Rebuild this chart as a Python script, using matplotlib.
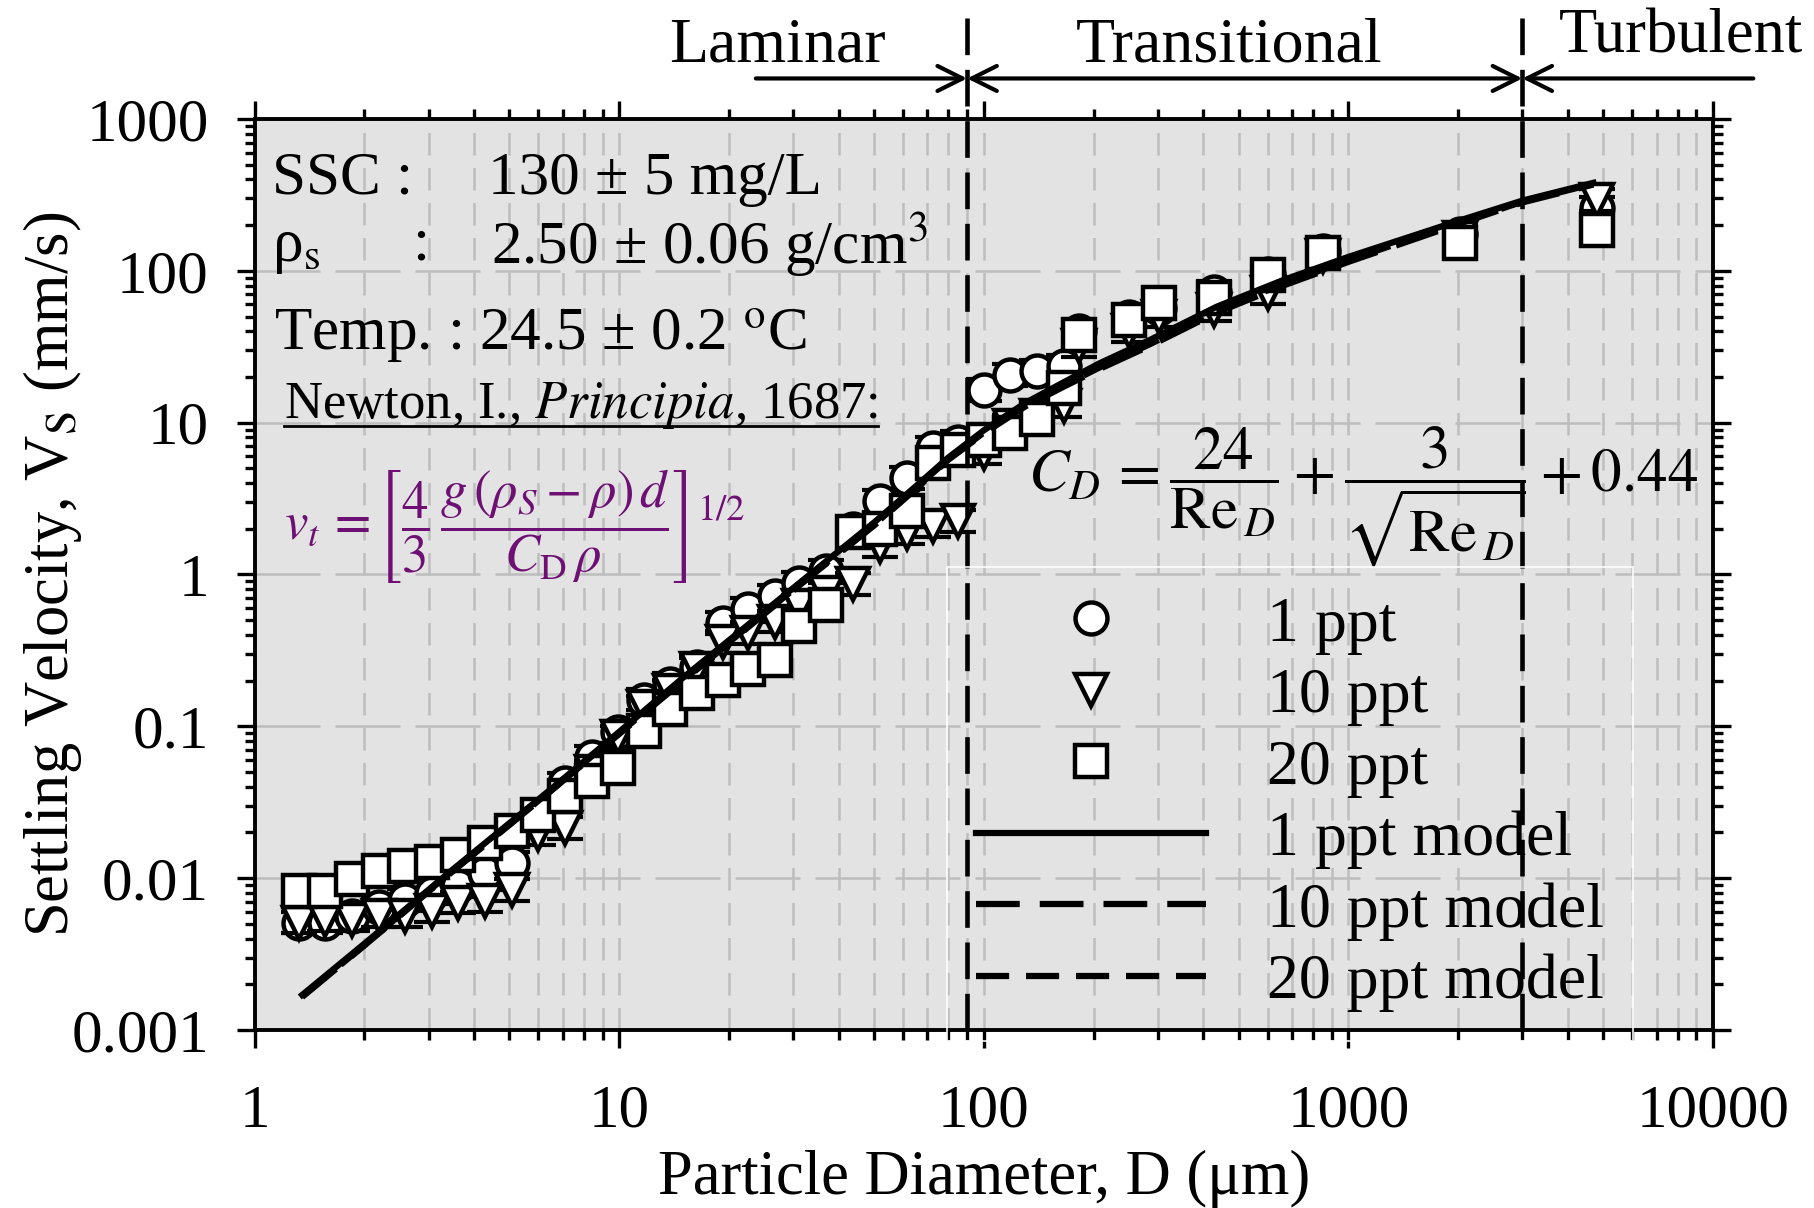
import matplotlib
matplotlib.use("Agg")
import matplotlib.pyplot as plt
from matplotlib.lines import Line2D
from matplotlib.ticker import LogLocator, FuncFormatter, NullFormatter
import numpy as np

plt.rcParams["font.family"] = ["Liberation Serif", "DejaVu Serif"]
plt.rcParams["mathtext.fontset"] = "stix"

# particle diameters (um), shared by the three salinities
diam = [1.32, 1.56, 1.85, 2.19, 2.59, 3.06, 3.62, 4.29, 5.08, 6.0, 7.1, 8.4,
        9.9, 11.7, 13.8, 16.3, 19.3, 22.6, 26.7, 31.2, 37.0, 43.8, 51.8, 61.5,
        72.6, 85.0, 100, 118, 140, 166, 182, 250, 303, 427, 603, 853, 2020, 4800]

# settling velocity (mm/s)
vs_1ppt = [0.0051, 0.0051, 0.0056, 0.0065, 0.0072, 0.0080, 0.0089, 0.0108,
           0.0126, 0.026, 0.042, 0.063, 0.092, 0.15, 0.19, 0.245, 0.48, 0.59,
           0.72, 0.88, 1.05, 1.98, 3.05, 4.3, 6.8, 7.5, 16.5, 20.5, 22.0, 23.5,
           40, 50, 57, 73, 95, 135, 175, 260]
vs_10ppt = [0.0051, 0.0053, 0.0053, 0.0056, 0.0056, 0.0061, 0.0069, 0.0071,
            0.0084, 0.0194, 0.0215, 0.05, 0.085, 0.135, 0.17, 0.24, 0.36, 0.41,
            0.49, 0.62, 0.75, 0.87, 1.53, 1.88, 2.08, 2.24, 6.3, 9.5, 11.0, 12.8,
            31.8, 40, 50, 55, 71, 125, 165, 294]
vs_20ppt = [0.0082, 0.0082, 0.0098, 0.0111, 0.0120, 0.0127, 0.0143, 0.0171,
            0.0204, 0.0262, 0.0347, 0.0436, 0.0533, 0.093, 0.129, 0.166, 0.203,
            0.237, 0.275, 0.46, 0.63, 1.9, 2.0, 2.6, 5.4, 6.6, 7.7, 8.6, 10.5,
            16.9, 38, 47.6, 61, 66, 94, 131, 152, 187]

# fitted model curves
model_d = [1.35, 2.0, 3.4, 6.45, 10, 15, 25, 35, 50, 65, 80, 100, 130, 166,
           207, 285, 435, 663, 1005, 2024, 3000, 4700]
model_1ppt = [0.0017, 0.0037, 0.0108, 0.038, 0.092, 0.21, 0.57, 1.1, 2.2, 3.8,
              5.9, 8.9, 13.5, 18.5, 24.5, 35, 58, 87, 124, 215, 290, 380]
model_10ppt = [0.00165, 0.0036, 0.0105, 0.037, 0.089, 0.2, 0.55, 1.06, 2.1,
               3.65, 5.7, 8.5, 12.8, 17.3, 22.5, 32, 53, 80, 115, 205, 282, 370]
model_20ppt = [0.00166, 0.00362, 0.0106, 0.0372, 0.09, 0.203, 0.555, 1.07, 2.12,
               3.7, 5.75, 8.6, 13.0, 17.6, 23.0, 32.8, 54.5, 82, 118, 208, 285, 374]

rel_err = 0.18
regime_bounds = [90, 3000]

fig = plt.figure(figsize=(18.15, 12.08), dpi=100)
ax = fig.add_axes([0.1403, 0.1474, 0.8035, 0.7541])
ax.set_facecolor("#e3e3e3")
ax.set_xscale("log")
ax.set_yscale("log")
ax.set_xlim(1, 10000)
ax.set_ylim(0.001, 1000)

# grid
ax.grid(which="major", axis="y", color="#bdbdbd", lw=1.8, ls=(0, (26, 6)))
ax.grid(which="both", axis="x", color="#bdbdbd", lw=1.8, ls=(0, (9, 5)))
ax.set_axisbelow(True)

mk = dict(ls="none", mfc="white", mec="black", ms=23, mew=3.2)
series = [(vs_1ppt, "o", "1 ppt", 3), (vs_10ppt, "v", "10 ppt", 4),
          (vs_20ppt, "s", "20 ppt", 5)]
handles = []
for vals, m, lab, z in series:
    v = np.array(vals)
    ax.errorbar(diam, v, yerr=[v - v / (1 + rel_err), v * rel_err], fmt="none",
                ecolor="black", elinewidth=2.4, capsize=13, capthick=3,
                zorder=z - 0.5)
    h, = ax.plot(diam, v, marker=m, label=lab, zorder=z, **mk)
    handles.append(h)

h1, = ax.plot(model_d, model_1ppt, color="black", lw=4.5, zorder=6,
              label="1 ppt model")
h2, = ax.plot(model_d, model_10ppt, color="black", lw=4.5, ls=(0, (7, 3.2)),
              zorder=6, label="10 ppt model")
h3, = ax.plot(model_d, model_20ppt, color="black", lw=4.5, ls=(0, (5.3, 2.7)),
              zorder=6, label="20 ppt model")
handles += [h1, h2, h3]

# regime boundaries
for xb in regime_bounds:
    ax.plot([xb, xb], [0, 1.125], transform=ax.get_xaxis_transform(),
            color="black", lw=3.3, ls=(0, (8, 3.2)), clip_on=False, zorder=7)

trans = ax.get_xaxis_transform()
arr = dict(lw=3, color="black", shrinkA=0, shrinkB=0, mutation_scale=45)
ax.annotate("", xy=(regime_bounds[0], 1.0445), xytext=(23.7, 1.0445),
            xycoords=trans, textcoords=trans,
            arrowprops=dict(arrowstyle="->", **arr), annotation_clip=False)
ax.annotate("", xy=(regime_bounds[1], 1.0445), xytext=(regime_bounds[0], 1.0445),
            xycoords=trans, textcoords=trans,
            arrowprops=dict(arrowstyle="<->", **arr), annotation_clip=False)
ax.annotate("", xy=(regime_bounds[1], 1.0445), xytext=(12900, 1.0445),
            xycoords=trans, textcoords=trans,
            arrowprops=dict(arrowstyle="->", **arr), annotation_clip=False)
fs = 44
ax.text(27.2, 1.08, "Laminar", transform=trans, ha="center", va="center",
        fontsize=46, clip_on=False)
ax.text(470, 1.08, "Transitional", transform=trans, ha="center", va="center",
        fontsize=46, clip_on=False)
ax.text(8150, 1.09, "Turbulent", transform=trans, ha="center", va="center",
        fontsize=45, clip_on=False)

# ticks
for axis in (ax.xaxis, ax.yaxis):
    axis.set_major_locator(LogLocator(base=10, numticks=20))
    axis.set_minor_locator(LogLocator(base=10, subs=np.arange(2, 10), numticks=20))
    axis.set_major_formatter(FuncFormatter(lambda v, _: f"{v:g}"))
    axis.set_minor_formatter(NullFormatter())
ax.tick_params(which="both", direction="out", top=True, right=True, width=2.4,
               labelsize=fs)
ax.tick_params(which="major", length=13)
ax.tick_params(which="minor", length=7)
ax.tick_params(axis="x", which="major", pad=26)
ax.tick_params(axis="y", which="major", pad=20)
for s in ax.spines.values():
    s.set_linewidth(2.8)

ax.set_xlabel("Particle Diameter, D (μm)", fontsize=45)
ax.set_ylabel("Settling Velocity, V$_\\mathrm{S}$ (mm/s)", fontsize=45)
ax.xaxis.set_label_coords(0.5, -0.132)
ax.yaxis.set_label_coords(-0.117, 0.5)

# annotations
ax.text(0.012, 0.934, "SSC :", transform=ax.transAxes, fontsize=fs, va="center")
ax.text(0.16, 0.934, "130 ± 5 mg/L", transform=ax.transAxes, fontsize=fs,
        va="center")
ax.text(0.012, 0.858, "ρ$_\\mathrm{s}$", transform=ax.transAxes, fontsize=fs,
        va="center")
ax.text(0.108, 0.862, ":", transform=ax.transAxes, fontsize=fs, va="center")
ax.text(0.162, 0.862, "2.50 ± 0.06 g/cm$^3$", transform=ax.transAxes,
        fontsize=fs, va="center")
ax.text(0.0135, 0.762, "Temp. : 24.5 ± 0.2 $^\\mathrm{o}$C",
        transform=ax.transAxes, fontsize=fs, va="center")
newton = ax.text(0.02, 0.686, "Newton, I., $\\mathit{Principia}$, 1687:",
                 transform=ax.transAxes, fontsize=38, va="center")
ax.text(0.02, 0.553,
        r"$v_t\,=\left[\dfrac{4}{3}\,\dfrac{g\,(\rho_S-\rho)\,d}{C_\mathrm{D}\,\rho}\right]^{1/2}$",
        transform=ax.transAxes, fontsize=38, va="center", color="#6e0f73")
ax.text(0.530, 0.5845,
        r"$C_D\,=\dfrac{24}{\mathrm{Re}_{\,D}}+\dfrac{3}{\sqrt{\mathrm{Re}_{\,D}}}+0.44$",
        transform=ax.transAxes, fontsize=44, va="center")

leg = ax.legend(handles=handles, loc="upper left", bbox_to_anchor=(0.475, 0.508),
                fontsize=46, handlelength=3.6, handletextpad=0.95,
                borderpad=0.45, labelspacing=0.2, borderaxespad=0,
                fancybox=False, frameon=True)
leg.get_frame().set_facecolor("none")
leg.get_frame().set_edgecolor("white")
leg.get_frame().set_linewidth(1.5)
leg.set_zorder(8)

# underline the reference line
fig.canvas.draw()
bb = newton.get_window_extent().transformed(fig.transFigure.inverted())
fig.add_artist(Line2D([bb.x0, bb.x1], [bb.y0 + 0.004, bb.y0 + 0.004],
                      color="black", lw=2))

fig.savefig("out.png", dpi=100)
